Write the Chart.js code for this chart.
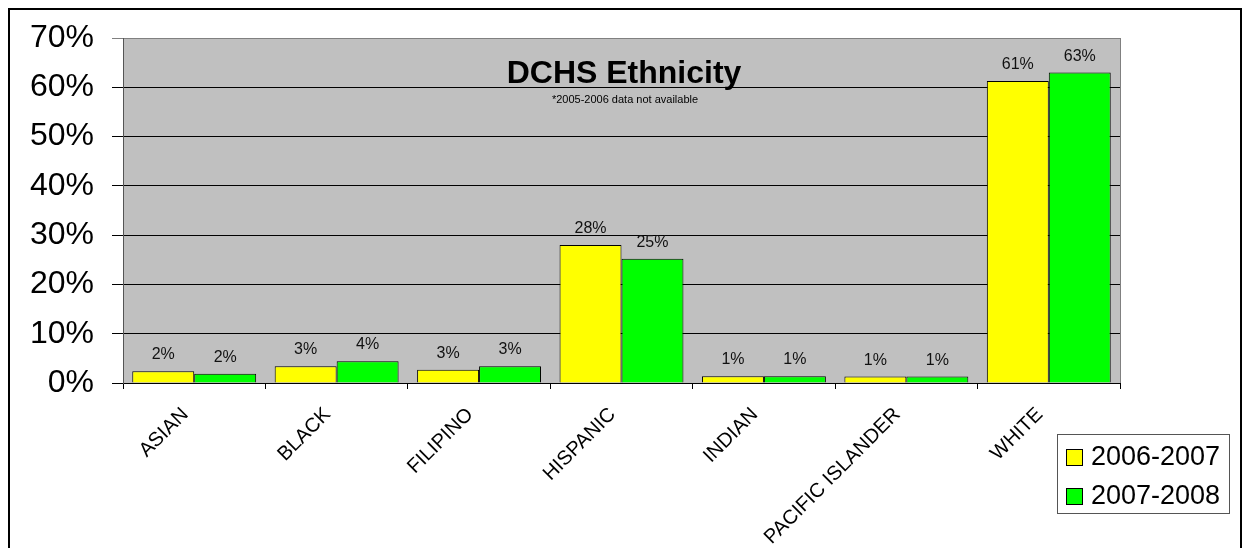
<!DOCTYPE html>
<html>
<head>
<meta charset="utf-8">
<script src="https://cdn.jsdelivr.net/npm/chart.js@4/dist/chart.umd.min.js"></script>
<style>
  html, body { margin: 0; padding: 0; background: #fff; }
  #wrap { position: relative; width: 1244px; height: 548px; }
</style>
</head>
<body>
<div id="wrap"><canvas id="myChart" width="1244" height="548"></canvas></div>
<script>
const ctx = document.getElementById("myChart").getContext("2d");

const categories = ["ASIAN", "BLACK", "FILIPINO", "HISPANIC", "INDIAN", "PACIFIC ISLANDER", "WHITE"];
const years = ["2006-2007", "2007-2008"];
const values0607 = [2.4, 3.4, 2.7, 28.0, 1.35, 1.3, 61.3];
const values0708 = [1.9, 4.4, 3.4, 25.2, 1.35, 1.3, 63.0];
const yTicks = [0, 10, 20, 30, 40, 50, 60, 70];

const FONT = "'Liberation Sans', Arial, sans-serif";

// gray plot background + outer frame
const backdrop = {
  id: "backdrop",
  beforeDraw(chart) {
    const { ctx, chartArea: a } = chart;
    ctx.save();
    ctx.fillStyle = "#fff";
    ctx.fillRect(0, 0, chart.width, chart.height);
    ctx.strokeStyle = "#000";
    ctx.lineWidth = 2;
    ctx.strokeRect(9, 9, 1232, 600);
    ctx.fillStyle = "#c0c0c0";
    ctx.fillRect(a.left, a.top, a.right - a.left, a.bottom - a.top);
    ctx.restore();
  },
  afterDraw(chart) {
    const { ctx, chartArea: a } = chart;
    ctx.save();
    ctx.strokeStyle = "#808080";
    ctx.lineWidth = 1;
    ctx.beginPath();
    ctx.moveTo(a.right + 0.5, a.top);
    ctx.lineTo(a.right + 0.5, a.bottom);
    ctx.stroke();
    ctx.restore();
  },
};

// value labels + title text inside plot area
const labels = {
  id: "labels",
  afterDatasetsDraw(chart) {
    const { ctx } = chart;
    ctx.save();
    ctx.fillStyle = "#111";
    ctx.font = "16px " + FONT;
    ctx.textAlign = "center";
    ctx.textBaseline = "alphabetic";
    chart.data.datasets.forEach((ds, i) => {
      chart.getDatasetMeta(i).data.forEach((el, j) => {
        ctx.fillText(Math.round(ds.data[j]) + "%", el.x, el.y - 12);
      });
    });
    ctx.fillStyle = "#000";
    ctx.font = "bold 32px " + FONT;
    ctx.fillText("DCHS Ethnicity", 624, 83);
    ctx.font = "11px " + FONT;
    ctx.fillText("*2005-2006 data not available", 625, 103);
    ctx.restore();
  },
};

// legend box below the plot on the right
const legendBox = {
  id: "legendBox",
  afterDraw(chart) {
    const { ctx } = chart;
    ctx.save();
    ctx.fillStyle = "#fff";
    ctx.fillRect(1057, 434, 172, 79);
    ctx.strokeStyle = "#555";
    ctx.lineWidth = 1;
    ctx.strokeRect(1057.5, 434.5, 172, 79);
    ctx.font = "27px " + FONT;
    ctx.textBaseline = "middle";
    ctx.textAlign = "left";
    chart.data.datasets.forEach((ds, i) => {
      const y = 449 + i * 39;
      ctx.fillStyle = ds.backgroundColor;
      ctx.fillRect(1066, y, 16, 16);
      ctx.strokeStyle = "#000";
      ctx.strokeRect(1066.5, y + 0.5, 16, 16);
      ctx.fillStyle = "#000";
      ctx.fillText(ds.label, 1091, y + 9);
    });
    ctx.restore();
  },
};

const data = {
  labels: categories,
  datasets: [
    {
      label: years[0],
      data: values0607,
      backgroundColor: "#ffff00",
      borderColor: "#000",
      borderWidth: 1,
    },
    {
      label: years[1],
      data: values0708,
      backgroundColor: "#00ff00",
      borderColor: "#000",
      borderWidth: 1,
    },
  ],
};

const config = {
  type: "bar",
  data: data,
  plugins: [backdrop, labels, legendBox],
  options: {
    responsive: false,
    animation: false,
    layout: { padding: { top: 38, right: 124, left: 0, bottom: 0 } },
    datasets: { bar: { barPercentage: 1, categoryPercentage: 0.87 } },
    plugins: {
      legend: { display: false },
      title: { display: false },
      tooltip: { enabled: false },
    },
    scales: {
      x: {
        grid: { offset: true, drawOnChartArea: false, tickLength: 6, color: "#000" },
        border: { color: "#000" },
        ticks: {
          color: "#000",
          font: { family: FONT, size: 20 },
          minRotation: 45,
          maxRotation: 45,
          padding: 14,
          labelOffset: -9,
          autoSkip: false,
        },
        afterFit(scale) { scale.height = 165; },
      },
      y: {
        min: 0,
        max: 70,
        afterBuildTicks(scale) { scale.ticks = yTicks.map(v => ({ value: v })); },
        grid: {
          tickLength: 11,
          color: ctx => (ctx.tick && ctx.tick.value === 70 ? "#808080" : "#000"),
        },
        border: { color: "#555" },
        ticks: {
          color: "#000",
          font: { family: FONT, size: 32 },
          padding: 18,
          callback: v => v + "%",
        },
        afterFit(scale) { scale.width = 123; },
      },
    },
  },
};

new Chart(ctx, config);
</script>
</body>
</html>
